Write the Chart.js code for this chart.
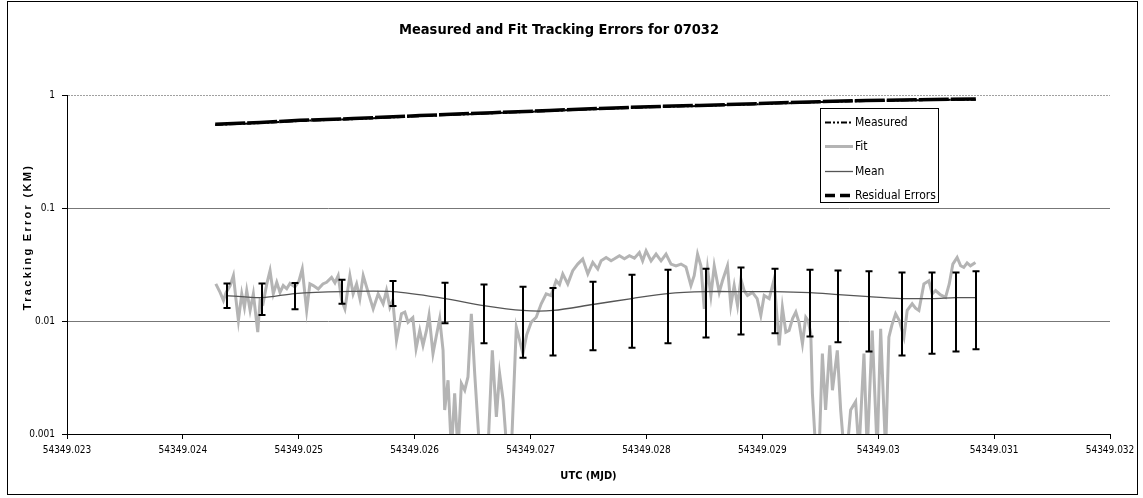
<!DOCTYPE html>
<html>
<head>
<meta charset="utf-8">
<title>Measured and Fit Tracking Errors for 07032</title>
<script src="https://cdn.jsdelivr.net/npm/chart.js@4.4.1/dist/chart.umd.min.js"></script>
<style>
  html, body { margin: 0; padding: 0; background: #fff; }
  #wrap { width: 1143px; height: 498px; }
</style>
</head>
<body>
<div id="wrap"><canvas id="chart" width="1143" height="498"></canvas></div>
<script>
const NARROW = "'DejaVu Sans Condensed', 'Liberation Sans Narrow', sans-serif";
const WIDE = "'Liberation Sans', Arial, sans-serif";

// axis ticks
const xTickValues = [54349.023, 54349.024, 54349.025, 54349.026, 54349.027,
  54349.028, 54349.029, 54349.030, 54349.031, 54349.032];
const xTickLabels = ["54349.023", "54349.024", "54349.025", "54349.026", "54349.027",
  "54349.028", "54349.029", "54349.03", "54349.031", "54349.032"];
const yTickValues = [0.001, 0.01, 0.1, 1];
const yTickLabels = ["0.001", "0.01", "0.1", "1"];

// measured tracking error (km)
const measuredX = [54349.024279, 54349.024666, 54349.025011, 54349.025467, 54349.026044,
  54349.026673, 54349.027164, 54349.027595, 54349.028025, 54349.028456,
  54349.028973, 54349.029490, 54349.029895, 54349.030351, 54349.030842];
const measuredY = [0.544, 0.565, 0.59, 0.611, 0.65, 0.69, 0.722, 0.753, 0.78, 0.80,
  0.83, 0.865, 0.885, 0.90, 0.91];
const residualY = [0.552, 0.572, 0.597, 0.618, 0.657, 0.698, 0.729, 0.761, 0.788, 0.808,
  0.84, 0.873, 0.893, 0.91, 0.92];

// fit tracking error (km)
const fitX = [
  54349.024284, 54349.024321, 54349.024350, 54349.024373, 54349.024408, 54349.024436, 54349.024459, 54349.024479, 54349.024508, 54349.024531,
  54349.024551, 54349.024580, 54349.024608, 54349.024646, 54349.024666, 54349.024692, 54349.024724, 54349.024752, 54349.024780, 54349.024810,
  54349.024838, 54349.024866, 54349.024896, 54349.024924, 54349.024967, 54349.025002, 54349.025030, 54349.025068, 54349.025096, 54349.025125,
  54349.025168, 54349.025208, 54349.025240, 54349.025283, 54349.025312, 54349.025340, 54349.025370, 54349.025398, 54349.025441, 54349.025469,
  54349.025499, 54349.025527, 54349.025556, 54349.025599, 54349.025642, 54349.025685, 54349.025728, 54349.025757, 54349.025786, 54349.025811,
  54349.025843, 54349.025886, 54349.025915, 54349.025943, 54349.025984, 54349.026012, 54349.026044, 54349.026072, 54349.026102, 54349.026124,
  54349.026158, 54349.026186, 54349.026216, 54349.026245, 54349.026259, 54349.026288, 54349.026317, 54349.026345, 54349.026374, 54349.026403,
  54349.026432, 54349.026460, 54349.026489, 54349.026518, 54349.026561, 54349.026595, 54349.026632, 54349.026670, 54349.026705, 54349.026733,
  54349.026763, 54349.026796, 54349.026834, 54349.026877, 54349.026906, 54349.026934, 54349.026966, 54349.027006, 54349.027049, 54349.027092,
  54349.027135, 54349.027177, 54349.027221, 54349.027250, 54349.027278, 54349.027321, 54349.027364, 54349.027407, 54349.027450, 54349.027494,
  54349.027537, 54349.027580, 54349.027609, 54349.027652, 54349.027695, 54349.027724, 54349.027767, 54349.027810, 54349.027853, 54349.027896,
  54349.027939, 54349.027967, 54349.027997, 54349.028040, 54349.028083, 54349.028126, 54349.028169, 54349.028212, 54349.028255, 54349.028298,
  54349.028341, 54349.028384, 54349.028412, 54349.028441, 54349.028470, 54349.028499, 54349.028527, 54349.028556, 54349.028585, 54349.028628,
  54349.028656, 54349.028699, 54349.028728, 54349.028757, 54349.028786, 54349.028815, 54349.028843, 54349.028872, 54349.028915, 54349.028955,
  54349.028987, 54349.029016, 54349.029059, 54349.029102, 54349.029145, 54349.029173, 54349.029203, 54349.029231, 54349.029261, 54349.029289,
  54349.029317, 54349.029346, 54349.029375, 54349.029395, 54349.029418, 54349.029432, 54349.029461, 54349.029490, 54349.029518, 54349.029546,
  54349.029582, 54349.029605, 54349.029647, 54349.029676, 54349.029705, 54349.029731, 54349.029762, 54349.029805, 54349.029834, 54349.029877,
  54349.029905, 54349.029948, 54349.029991, 54349.030021, 54349.030045, 54349.030064, 54349.030092, 54349.030118, 54349.030150, 54349.030182,
  54349.030222, 54349.030250, 54349.030293, 54349.030322, 54349.030351, 54349.030394, 54349.030437, 54349.030466, 54349.030495, 54349.030538,
  54349.030581, 54349.030613, 54349.030644, 54349.030681, 54349.030711, 54349.030738, 54349.030767, 54349.030796, 54349.030839
];
const fitY = [
  0.0213, 0.0179, 0.0152, 0.0179, 0.0206, 0.0252, 0.0152, 0.0101, 0.0174, 0.0132,
  0.0186, 0.0124, 0.0174, 0.00797, 0.0152, 0.0143, 0.0213, 0.0279, 0.0174, 0.0220,
  0.0179, 0.0206, 0.0193, 0.0215, 0.0200, 0.0227, 0.0288, 0.0124, 0.0213, 0.0206,
  0.0192, 0.0213, 0.0220, 0.0243, 0.0218, 0.0252, 0.0152, 0.0128, 0.0252, 0.0174,
  0.0213, 0.0158, 0.0252, 0.0179, 0.0128, 0.0174, 0.0142, 0.0186, 0.0132, 0.0152,
  0.00673, 0.0116, 0.0120, 0.00976, 0.0107, 0.00569, 0.00825, 0.00608, 0.00825, 0.0112,
  0.00514, 0.0073, 0.0105, 0.0055, 0.00163, 0.00299, 0.0007, 0.00229, 0.0007, 0.0028,
  0.00244, 0.0032, 0.0116, 0.00343, 0.0007, 0.0006, 0.0007, 0.0055, 0.00142, 0.00343,
  0.002, 0.0007, 0.0007, 0.00882, 0.00673, 0.00514, 0.0075, 0.00976, 0.0108, 0.0142,
  0.0174, 0.0168, 0.0227, 0.021, 0.0261, 0.0213, 0.0279, 0.0319, 0.0353, 0.0261,
  0.033, 0.0288, 0.0341, 0.0365, 0.0341, 0.0355, 0.0378, 0.0355, 0.0378, 0.036,
  0.0404, 0.0341, 0.0418, 0.0341, 0.0391, 0.0341, 0.0391, 0.0319, 0.0308, 0.0319,
  0.030, 0.0206, 0.0252, 0.0391, 0.0308, 0.0128, 0.0288, 0.0168, 0.0308, 0.0179,
  0.0227, 0.0308, 0.0137, 0.0206, 0.0137, 0.0235, 0.0186, 0.0168, 0.0179, 0.0158,
  0.0112, 0.0168, 0.0158, 0.0235, 0.00608, 0.0132, 0.00797, 0.00825, 0.0105, 0.012,
  0.0097, 0.0063, 0.0108, 0.0101, 0.00771, 0.00229, 0.0007, 0.0007, 0.00514, 0.00163,
  0.00608, 0.00244, 0.0055, 0.00163, 0.0007, 0.0007, 0.00163, 0.00193, 0.0007, 0.00514,
  0.0007, 0.00825, 0.0007, 0.00854, 0.002, 0.0007, 0.0072, 0.0092, 0.0116, 0.0101,
  0.0072, 0.0124, 0.0142, 0.013, 0.0124, 0.0213, 0.0227, 0.0174, 0.0186, 0.017,
  0.0162, 0.0213, 0.0319, 0.0365, 0.0308, 0.0298, 0.0327, 0.0308, 0.033
];

// mean with error bar limits
const meanX = [54349.024379, 54349.024683, 54349.024965, 54349.025375, 54349.025814,
  54349.026262, 54349.026595, 54349.026931, 54349.027196, 54349.027537, 54349.027873,
  54349.028183, 54349.028513, 54349.028815, 54349.029110, 54349.029412, 54349.029656,
  54349.029920, 54349.030202, 54349.030465, 54349.030667, 54349.030844];
const meanY = [0.0168, 0.0161, 0.0175, 0.0182, 0.0182, 0.0158, 0.0137, 0.0124, 0.0124,
  0.0140, 0.0158, 0.0175, 0.0182, 0.0182, 0.0182, 0.0178, 0.0171, 0.0164, 0.0158,
  0.0158, 0.0161, 0.0161];
const errHigh = [0.0215, 0.0215, 0.0217, 0.0232, 0.0226, 0.0218, 0.0210, 0.0201, 0.0196,
  0.0223, 0.0257, 0.0284, 0.0290, 0.0298, 0.0290, 0.0284, 0.0280, 0.0275, 0.0268,
  0.0268, 0.0268, 0.0275];
const errLow = [0.0130, 0.0113, 0.0127, 0.0142, 0.0136, 0.00956, 0.00637, 0.00474, 0.00494,
  0.00550, 0.00581, 0.00634, 0.00716, 0.00760, 0.00781, 0.00730, 0.00647, 0.00538,
  0.00494, 0.00514, 0.00538, 0.00561];

function toPoints(xs, ys) {
  return xs.map((x, i) => ({ x: x, y: ys[i] }));
}

const frame = {
  id: "frame",
  beforeDraw(chart) {
    const ctx = chart.ctx;
    ctx.save();
    ctx.fillStyle = "#fff";
    ctx.fillRect(0, 0, chart.width, chart.height);
    ctx.strokeStyle = "#000";
    ctx.lineWidth = 1;
    ctx.strokeRect(7.5, 1.5, 1130, 493);
    ctx.restore();
  },
  afterDraw(chart) {
    // rotated y title with spaced letters
    const ctx = chart.ctx;
    ctx.save();
    ctx.translate(28, 237);
    ctx.rotate(-Math.PI / 2);
    ctx.font = "bold 11px " + WIDE;
    if ("letterSpacing" in ctx) ctx.letterSpacing = "2.3px";
    ctx.fillStyle = "#000";
    ctx.textAlign = "center";
    ctx.textBaseline = "middle";
    ctx.fillText("Tracking Error (KM)", 0, 0);
    ctx.restore();
  }
};

const errorBars = {
  id: "errorBars",
  afterDatasetsDraw(chart) {
    const ctx = chart.ctx;
    const xs = chart.scales.x, ys = chart.scales.y;
    ctx.save();
    ctx.strokeStyle = "#000";
    ctx.lineWidth = 2;
    meanX.forEach((x, i) => {
      const px = Math.round(xs.getPixelForValue(x));
      const top = ys.getPixelForValue(errHigh[i]);
      const bot = ys.getPixelForValue(errLow[i]);
      ctx.beginPath();
      ctx.moveTo(px, top);
      ctx.lineTo(px, bot);
      ctx.moveTo(px - 3.5, top);
      ctx.lineTo(px + 3.5, top);
      ctx.moveTo(px - 3.5, bot);
      ctx.lineTo(px + 3.5, bot);
      ctx.stroke();
    });
    ctx.restore();
  }
};

const boxLegend = {
  id: "boxLegend",
  afterDraw(chart) {
    const ctx = chart.ctx;
    const left = 820.5, top = 108.5, w = 118, h = 94;
    ctx.save();
    ctx.fillStyle = "#fff";
    ctx.fillRect(left, top, w, h);
    ctx.strokeStyle = "#000";
    ctx.lineWidth = 1;
    ctx.strokeRect(left, top, w, h);
    [0, 1, 2, 3].forEach((dsIndex, r) => {
      const ds = chart.data.datasets[dsIndex];
      const y = Math.round(top + 13 + r * 24.5) + 0.5;
      ctx.beginPath();
      ctx.strokeStyle = ds.borderColor;
      ctx.lineWidth = ds.borderWidth;
      ctx.setLineDash(ds.legendDash || []);
      ctx.moveTo(825, y);
      ctx.lineTo(853, y);
      ctx.stroke();
      ctx.setLineDash([]);
      ctx.fillStyle = "#000";
      ctx.font = "12px " + NARROW;
      ctx.textAlign = "left";
      ctx.textBaseline = "middle";
      ctx.fillText(ds.label, 855, y);
    });
    ctx.restore();
  }
};

Chart.defaults.font.family = NARROW;
Chart.defaults.color = "#000";

new Chart(document.getElementById("chart"), {
  type: "scatter",
  data: {
    datasets: [
      {
        label: "Measured",
        data: toPoints(measuredX, measuredY),
        showLine: true,
        borderColor: "#000",
        borderWidth: 2,
        borderDash: [8, 2, 2, 2],
        legendDash: [6, 2, 2, 2, 2, 2],
        pointRadius: 0,
        order: 0
      },
      {
        label: "Fit",
        data: toPoints(fitX, fitY),
        showLine: true,
        borderColor: "#b4b4b4",
        borderWidth: 3,
        pointRadius: 0,
        clip: 0,
        order: 3
      },
      {
        label: "Mean",
        data: toPoints(meanX, meanY),
        showLine: true,
        borderColor: "#555",
        borderWidth: 1.3,
        tension: 0.3,
        pointRadius: 0,
        order: 2
      },
      {
        label: "Residual Errors",
        data: toPoints(measuredX, residualY),
        showLine: true,
        borderColor: "#000",
        borderWidth: 3.5,
        borderDash: [30, 2],
        legendDash: [10, 5],
        pointRadius: 0,
        order: 1
      }
    ]
  },
  options: {
    responsive: false,
    devicePixelRatio: 1,
    animation: false,
    layout: { padding: { left: 8, right: 33, top: 0, bottom: 0 } },
    plugins: {
      legend: { display: false },
      tooltip: { enabled: false },
      title: {
        display: true,
        text: "Measured and Fit Tracking Errors for 07032",
        color: "#000",
        font: { family: NARROW, size: 14.5, weight: "bold" },
        padding: { top: 22, bottom: 55.6 }
      }
    },
    scales: {
      x: {
        type: "linear",
        position: "bottom",
        min: 54349.023,
        max: 54349.032,
        afterBuildTicks: (scale) => {
          scale.ticks = xTickValues.map((v) => ({ value: v }));
        },
        afterFit: (scale) => { scale.height = 64; },
        ticks: {
          autoSkip: false,
          maxRotation: 0,
          padding: 5,
          font: { family: NARROW, size: 10 },
          callback: (value, index) => xTickLabels[index]
        },
        grid: { drawOnChartArea: false, tickLength: 5, tickColor: "#000" },
        border: { color: "#000", width: 1 },
        title: {
          display: true,
          text: "UTC (MJD)",
          font: { family: NARROW, size: 11, weight: "bold" },
          padding: { top: 0, bottom: 15 }
        }
      },
      y: {
        type: "logarithmic",
        min: 0.001,
        max: 1,
        afterBuildTicks: (scale) => {
          scale.ticks = yTickValues.map((v) => ({ value: v }));
        },
        afterFit: (scale) => { scale.width = 59; },
        ticks: {
          padding: 7,
          font: { family: NARROW, size: 10 },
          callback: (value, index) => yTickLabels[index]
        },
        grid: {
          color: (c) => (c.tick && c.tick.value === 1 ? "#a0a0a0" : "#777"),
          tickLength: 5,
          tickColor: "#000"
        },
        border: {
          color: "#000",
          width: 1,
          dash: (c) => (c.tick && c.tick.value === 1 ? [2, 1] : [])
        }
      }
    }
  },
  plugins: [frame, errorBars, boxLegend]
});
</script>
</body>
</html>
